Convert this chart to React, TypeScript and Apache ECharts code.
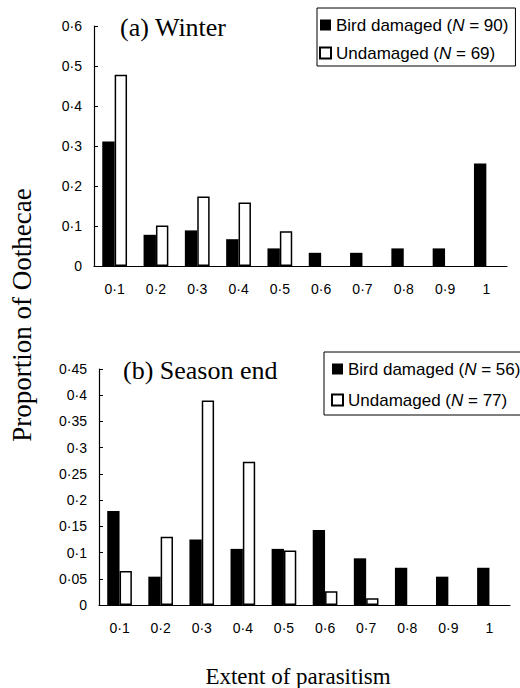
import React, { useEffect, useRef } from "react";
import * as echarts from "echarts";

const categories = ["0·1", "0·2", "0·3", "0·4", "0·5", "0·6", "0·7", "0·8", "0·9", "1"];
const winterBird = [0.311, 0.078, 0.089, 0.067, 0.044, 0.033, 0.033, 0.044, 0.044, 0.256];
const winterUndamaged = [0.478, 0.101, 0.174, 0.159, 0.087, 0, 0, 0, 0, 0];
const seasonBird = [0.179, 0.054, 0.125, 0.107, 0.107, 0.143, 0.089, 0.071, 0.054, 0.071];
const seasonUndamaged = [0.065, 0.13, 0.39, 0.273, 0.104, 0.026, 0.013, 0, 0, 0];
const winterNames = ["Bird damaged (N = 90)", "Undamaged (N = 69)"];
const seasonNames = ["Bird damaged (N = 56)", "Undamaged (N = 77)"];
const panelTitles = ["(a) Winter", "(b) Season end"];
const yTitle = "Proportion of Oothecae";
const xTitle = "Extent of parasitism";

const SANS = "'Liberation Sans', Arial, sans-serif";
const SERIF = "'Liberation Serif', 'Times New Roman', serif";

const fmt = (v: number) => String(Math.round(v * 100) / 100).replace(".", "·");
const bars = (arr: number[]) => arr.map((v) => (v === 0 ? "-" : v));

function xAxis(gridIndex: number) {
  return {
    type: "category",
    gridIndex,
    data: categories,
    axisLine: { lineStyle: { color: "#000", width: 1.2 } },
    axisTick: { inside: true, length: 4, lineStyle: { color: "#000", width: 1 } },
    axisLabel: { color: "#000", fontFamily: SANS, fontSize: 14, margin: 16 },
  };
}
function yAxis(gridIndex: number, max: number, interval: number) {
  return {
    type: "value",
    gridIndex,
    min: 0,
    max,
    interval,
    axisLine: { show: true, lineStyle: { color: "#000", width: 1.2 } },
    axisTick: { show: true, inside: true, length: 4, lineStyle: { color: "#000", width: 1 } },
    splitLine: { show: false },
    axisLabel: { color: "#000", fontFamily: SANS, fontSize: 14, margin: 12, formatter: fmt },
  };
}
const blackStyle = { color: "#000" };
const whiteStyle = { color: "#fff", borderColor: "#000", borderWidth: 1.5 };

function legend(names: string[], left: number, top: number, padding: number[], itemGap: number) {
  return {
    data: names,
    orient: "vertical",
    left,
    top,
    padding,
    borderColor: "#000",
    borderWidth: 1,
    itemWidth: 11,
    itemHeight: 11,
    itemGap,
    icon: "rect",
    formatter: (name: string) => name.replace("(N", "({i|N}"),
    textStyle: {
      color: "#000",
      fontFamily: SANS,
      fontSize: 17,
      lineHeight: 20,
      rich: { i: { fontStyle: "italic", fontFamily: SANS, fontSize: 17, lineHeight: 20, color: "#000" } },
    },
  };
}

export default function App() {
  const ref = useRef<HTMLDivElement>(null);
  useEffect(() => {
    if (!ref.current) return;
    const chart = echarts.init(ref.current, null, { renderer: "svg" });
    chart.setOption({
      animation: false,
      backgroundColor: "#fff",
      grid: [
        { left: 94, top: 26, width: 413, height: 240 },
        { left: 99, top: 369, width: 411, height: 236 },
      ],
      xAxis: [xAxis(0), xAxis(1)],
      yAxis: [yAxis(0, 0.6, 0.1), yAxis(1, 0.45, 0.05)],
      legend: [
        legend(winterNames, 317, 8, [7, 7, 3, 2], 8),
        legend(seasonNames, 324, 352, [7, 10, 5, 7], 11),
      ],
      series: [
        { name: winterNames[0], type: "bar", xAxisIndex: 0, yAxisIndex: 0, data: bars(winterBird), itemStyle: blackStyle, barGap: "0%", barCategoryGap: "40%" },
        { name: winterNames[1], type: "bar", xAxisIndex: 0, yAxisIndex: 0, data: bars(winterUndamaged), itemStyle: whiteStyle, barGap: "0%", barCategoryGap: "40%" },
        { name: seasonNames[0], type: "bar", xAxisIndex: 1, yAxisIndex: 1, data: bars(seasonBird), itemStyle: blackStyle, barGap: "0%", barCategoryGap: "40%" },
        { name: seasonNames[1], type: "bar", xAxisIndex: 1, yAxisIndex: 1, data: bars(seasonUndamaged), itemStyle: whiteStyle, barGap: "0%", barCategoryGap: "40%" },
      ],
      graphic: [
        { type: "text", x: 120, y: 27, style: { text: panelTitles[0], font: `26px ${SERIF}`, fill: "#000", textVerticalAlign: "middle", verticalAlign: "middle" } },
        { type: "text", x: 123, y: 370, style: { text: panelTitles[1], font: `26px ${SERIF}`, fill: "#000", textVerticalAlign: "middle", verticalAlign: "middle" } },
        { type: "text", x: 22, y: 315, rotation: Math.PI / 2, style: { text: yTitle, font: `27px ${SERIF}`, fill: "#000", textAlign: "center", align: "center", textVerticalAlign: "middle", verticalAlign: "middle" } },
        { type: "text", x: 298, y: 676, style: { text: xTitle, font: `23px ${SERIF}`, fill: "#000", textAlign: "center", align: "center", textVerticalAlign: "middle", verticalAlign: "middle" } },
      ],
    });
    return () => chart.dispose();
  }, []);
  return <div ref={ref} style={{ position: "absolute", left: 0, top: 0, width: 520, height: 688 }} />;
}
